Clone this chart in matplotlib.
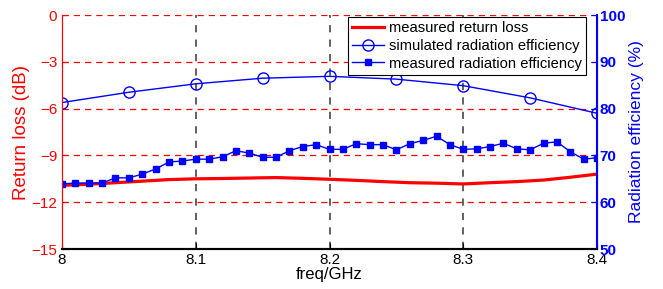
import matplotlib
matplotlib.use("Agg")
import matplotlib.pyplot as plt
import numpy as np

plt.rcParams["font.family"] = ["Liberation Sans", "DejaVu Sans"]
plt.rcParams["font.size"] = 11

# ── data ──
rl_freq = [8.00, 8.02, 8.04, 8.06, 8.08, 8.10, 8.12, 8.14, 8.16, 8.18, 8.20,
           8.22, 8.24, 8.26, 8.28, 8.30, 8.32, 8.34, 8.36, 8.38, 8.40]
rl_db = [-10.92, -10.85, -10.75, -10.65, -10.55, -10.50, -10.48, -10.45, -10.42,
         -10.47, -10.53, -10.60, -10.68, -10.75, -10.78, -10.83, -10.75, -10.68,
         -10.58, -10.40, -10.20]

sim_freq = [8.00, 8.05, 8.10, 8.15, 8.20, 8.25, 8.30, 8.35, 8.40]
sim_eff = [81.3, 83.5, 85.3, 86.5, 86.9, 86.3, 84.9, 82.3, 79.0]

meas_freq = [8.00, 8.01, 8.02, 8.03, 8.04, 8.05, 8.06, 8.07, 8.08, 8.09, 8.10,
             8.11, 8.12, 8.13, 8.14, 8.15, 8.16, 8.17, 8.18, 8.19, 8.20,
             8.21, 8.22, 8.23, 8.24, 8.25, 8.26, 8.27, 8.28, 8.29, 8.30,
             8.31, 8.32, 8.33, 8.34, 8.35, 8.36, 8.37, 8.38, 8.39, 8.40]
meas_eff = [63.9, 64.1, 64.1, 64.1, 65.2, 65.2, 66.0, 67.1, 68.6, 68.8, 69.2,
            69.2, 69.7, 71.0, 70.5, 69.6, 69.6, 71.0, 71.9, 72.3, 71.3,
            71.3, 72.5, 72.3, 72.3, 71.2, 72.5, 73.2, 74.1, 72.3, 71.3,
            71.4, 71.9, 72.6, 71.4, 71.2, 72.6, 72.9, 70.8, 69.2, 69.5]

x_ticks = [8.0, 8.1, 8.2, 8.3, 8.4]
left_ticks = [0, -3, -6, -9, -12, -15]
right_ticks = [50, 60, 70, 80, 90, 100]

red = "#ff0000"
blue = "#0000ff"

fig = plt.figure(figsize=(6.63, 2.89), dpi=100)
ax1 = fig.add_axes([0.0935, 0.1384, 0.807, 0.8096])
ax2 = ax1.twinx()

# grid
for v in left_ticks:
    ax1.axhline(v, color=red, linestyle=(0, (5, 4)), linewidth=0.9, zorder=0)
for v in x_ticks[1:-1]:
    ax1.axvline(v, color="#555555", linestyle=(0, (4, 4)), linewidth=1.3, zorder=0)

l1, = ax1.plot(rl_freq, rl_db, color=red, linewidth=2.3, label="measured return loss")
ax1.set_xlim(8.0, 8.4)
ax1.set_ylim(-15, 0)
ax1.set_xticks(x_ticks)
ax1.set_xticklabels(["8", "8.1", "8.2", "8.3", "8.4"])
ax1.set_yticks(left_ticks)
ax1.set_xlabel("freq/GHz", fontsize=12, labelpad=0)
ax1.set_ylabel("Return loss (dB)", color=red, fontsize=13.5, labelpad=1)
ax1.tick_params(axis="y", colors=red, direction="in", length=4)
ax1.tick_params(axis="x", direction="in", length=4, pad=3)

l2, = ax2.plot(sim_freq, sim_eff, color=blue, linewidth=1, marker="o",
               markersize=8, markerfacecolor="none", markeredgewidth=1,
               label="simulated radiation efficiency")
l3, = ax2.plot(meas_freq, meas_eff, color=blue, linewidth=1, marker="s",
               markersize=4.5, label="measured radiation efficiency")
ax2.set_ylim(50, 100)
ax2.set_yticks(right_ticks)
ax2.set_ylabel("Radiation efficiency (%)", color=blue, fontsize=12.5, labelpad=3)
ax2.tick_params(axis="y", colors=blue, direction="in", length=4, pad=2)
for t in ax2.get_yticklabels():
    t.set_fontweight("bold")

ax1.spines["left"].set_color(red)
ax1.spines["top"].set_visible(False)
ax2.spines["top"].set_visible(False)
ax1.spines["bottom"].set_linewidth(1.5)
ax2.spines["bottom"].set_linewidth(1.5)
ax2.spines["left"].set_color(red)
ax2.spines["right"].set_color(blue)
ax2.spines["right"].set_linewidth(1.5)

leg = ax2.legend([l1, l2, l3], [l.get_label() for l in (l1, l2, l3)],
                 loc="upper right", bbox_to_anchor=(0.985, 1.005),
                 fontsize=10.6, fancybox=False, edgecolor="black", framealpha=1,
                 borderpad=0.3, labelspacing=0.25, handlelength=2.2,
                 handletextpad=0.3, borderaxespad=0.2)
leg.get_frame().set_linewidth(0.8)

plt.savefig("out.png", dpi=100)
